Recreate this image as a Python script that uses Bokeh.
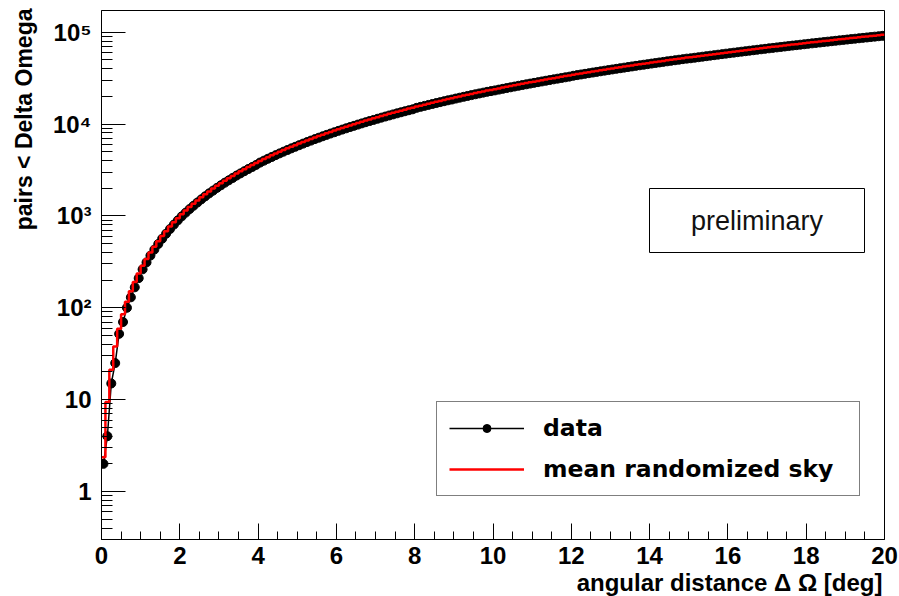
import numpy as np
from bokeh.plotting import figure
from bokeh.models import (Range1d, FixedTicker, Label, Legend, LegendItem,
                          ColumnDataSource, BoxAnnotation, Title)
from bokeh.embed import file_html
from bokeh.resources import INLINE

# ---------------- data ----------------
bin_width = 0.1
n_bins = 200
bin_edges = np.round(np.arange(n_bins + 1) * bin_width, 3)
bin_centers = bin_edges[:-1] + bin_width / 2

data_pairs = [
    2, 4, 15, 25, 52, 70, 100, 130, 167, 210, 262, 312, 370, 430, 495, 565, 640, 720, 805, 895,
    990, 1085, 1186, 1290, 1400, 1515, 1635, 1760, 1885, 2020,
    2155, 2300, 2440, 2590, 2750, 2905, 3070, 3240, 3410, 3590,
    3810, 3995, 4190, 4385, 4590, 4795, 5005, 5220, 5440, 5660,
    5890, 6125, 6365, 6605, 6855, 7105, 7360, 7620, 7885, 8150,
    8430, 8710, 8990, 9280, 9570, 9870, 10170, 10480, 10790, 11090,
    11420, 11745, 12075, 12405, 12745, 13085, 13430, 13785, 14140, 14475,
    15020, 15395, 15770, 16150, 16540, 16930, 17325, 17730, 18135, 18505,
    18955, 19375, 19800, 20225, 20660, 21100, 21540, 21985, 22435, 22835,
    23250, 23715, 24185, 24655, 25130, 25615, 26100, 26590, 27080, 27580,
    28085, 28595, 29105, 29625, 30145, 30675, 31205, 31740, 32280, 32825,
    33545, 34105, 34665, 35230, 35800, 36375, 36955, 37540, 38130, 38720,
    39320, 39920, 40530, 41140, 41760, 42380, 43005, 43635, 44270, 44910,
    45550, 46200, 46855, 47510, 48175, 48840, 49510, 50190, 50870, 51555,
    52020, 52710, 53410, 54110, 54815, 55520, 56240, 56955, 57680, 58405,
    59140, 59875, 60615, 61365, 62115, 62870, 63630, 64395, 65160, 65935,
    66715, 67495, 68285, 69075, 69870, 70670, 71480, 72290, 73100, 73920,
    74745, 75575, 76405, 77240, 78085, 78930, 79780, 80640, 81500, 82360,
    83230, 84105, 84985, 85865, 86755, 87645, 88545, 89445, 90350, 91260,
]

random_sky_pairs = [
    2.36, 9.44, 21.2, 37.8, 59.0, 85.0, 116, 151, 191, 236, 286, 340, 399, 463, 531, 604, 682, 765, 852, 944,
    1041, 1142, 1248, 1359, 1475, 1595, 1720, 1850, 1985, 2124,
    2268, 2417, 2570, 2728, 2891, 3059, 3231, 3408, 3590, 3774,
    3967, 4163, 4364, 4569, 4779, 4994, 5213, 5437, 5666, 5896,
    6138, 6381, 6629, 6882, 7139, 7401, 7668, 7939, 8215, 8488,
    8782, 9072, 9367, 9667, 9971, 10280, 10594, 10913, 11236, 11550,
    11897, 12234, 12576, 12923, 13275, 13631, 13992, 14358, 14729, 15080,
    15484, 15869, 16258, 16652, 17051, 17455, 17863, 18276, 18694, 19078,
    19543, 19975, 20412, 20853, 21299, 21750, 22205, 22665, 23130, 23541,
    23972, 24449, 24931, 25418, 25909, 26405, 26905, 27410, 27920, 28435,
    28954, 29478, 30007, 30541, 31079, 31622, 32169, 32721, 33278, 33840,
    34406, 34977, 35553, 36134, 36719, 37309, 37903, 38502, 39106, 39715,
    40328, 40946, 41569, 42197, 42829, 43466, 44107, 44753, 45404, 46060,
    46720, 47385, 48055, 48730, 49409, 50093, 50781, 51474, 52172, 52875,
    53354, 54063, 54777, 55495, 56219, 56946, 57679, 58416, 59158, 59904,
    60655, 61411, 62171, 62937, 63707, 64481, 65260, 66044, 66833, 67626,
    68424, 69227, 70034, 70846, 71663, 72484, 73310, 74141, 74976, 75816,
    76661, 77510, 78364, 79223, 80087, 80955, 81827, 82705, 83587, 84474,
    85366, 86262, 87163, 88068, 88979, 89893, 90813, 91737, 92666, 93600,
]

x_ticks = [0, 2, 4, 6, 8, 10, 12, 14, 16, 18, 20]
x_minor_ticks = [0.5 * i for i in range(41) if i % 4]
y_tick_values = [1, 10, 100, 1000, 10000, 100000]
y_tick_labels = ["1", "10", "10\u00b2", "10\u00b3", "10\u2074", "10\u2075"]

series_labels = ["data", "mean randomized sky"]
x_title = "angular distance \u0394 \u03a9 [deg]"
y_title = "pairs < Delta Omega"
note_text = "preliminary"

# ---------------- layout ----------------
W, H = 899, 596
FL, FR, FT, FB = 101, 884, 10, 539
PX_ONE, PX_DECADE = 491.0, 91.86            # pixel row of y=1, pixels per decade
Y_LO = 10 ** (-(FB - PX_ONE) / PX_DECADE)
Y_HI = 10 ** ((PX_ONE - FT) / PX_DECADE)
X_LO, X_HI = 0, 20
PX_PER_X = (FR - FL) / (X_HI - X_LO)

def xdat(px):
    return X_LO + (px - FL) / PX_PER_X

def ydat(py):
    return 10 ** ((PX_ONE - py) / PX_DECADE)

p = figure(width=W, height=H, x_range=Range1d(X_LO, X_HI), y_range=Range1d(Y_LO, Y_HI),
           y_axis_type="log", output_backend="svg", toolbar_location=None,
           min_border_left=FL, min_border_right=W - FR, min_border_top=FT,
           min_border_bottom=H - FB)
p.title = None
p.background_fill_color = "white"
p.border_fill_color = "white"
p.outline_line_color = "black"
p.outline_line_width = 1
p.xgrid.visible = False
p.ygrid.visible = False

for ax in (p.xaxis[0], p.yaxis[0]):
    ax.axis_line_color = "black"
    ax.axis_line_width = 1
    ax.major_tick_line_color = "black"
    ax.minor_tick_line_color = "black"
    ax.major_tick_out = 0
    ax.minor_tick_out = 0
    ax.major_label_text_font = "Liberation Sans"
    ax.major_label_text_font_style = "bold"
    ax.major_label_text_font_size = "24px"
    ax.major_label_text_color = "black"

p.xaxis.major_tick_in = 16
p.xaxis.minor_tick_in = 8
p.xaxis.ticker = FixedTicker(ticks=x_ticks, minor_ticks=x_minor_ticks)
p.xaxis.major_label_standoff = 7

y_minor = [m / 10 for m in range(3, 10)]
for d in range(0, 5):
    y_minor += [m * 10 ** d for m in range(2, 10)]
p.yaxis.major_tick_in = 24
p.yaxis.minor_tick_in = 11
p.yaxis.ticker = FixedTicker(ticks=y_tick_values, minor_ticks=y_minor)
p.yaxis.major_label_overrides = dict(zip(y_tick_values, y_tick_labels))
p.yaxis.major_label_standoff = 10

# axis titles (ROOT style: right / top aligned)
p.add_layout(Title(text=x_title, align="right", vertical_align="bottom", offset=2,
                   standoff=0, text_font="Liberation Sans", text_font_style="bold",
                   text_font_size="24px", text_color="black"), "below")
p.add_layout(Title(text=y_title, align="right", vertical_align="top", offset=-2,
                   standoff=21, text_font="Liberation Sans", text_font_style="bold",
                   text_font_size="23px", text_color="black"), "left")

# ---------------- glyphs ----------------
src_data = ColumnDataSource(dict(x=bin_centers, y=data_pairs))
src_rand = ColumnDataSource(dict(x=bin_edges, y=list(random_sky_pairs) + [random_sky_pairs[-1]]))

r_line = p.line("x", "y", source=src_data, line_color="black", line_width=1.5)
r_pts = p.scatter("x", "y", source=src_data, marker="circle", size=9,
                  fill_color="black", line_color="black")
r_rand = p.step("x", "y", source=src_rand, mode="after", line_color="#ff0000", line_width=2.5)

# ---------------- legend ----------------
legend = Legend(items=[LegendItem(label=series_labels[0], renderers=[r_line, r_pts]),
                       LegendItem(label=series_labels[1], renderers=[r_rand])],
                location=(436 - FL, FB - 496))
legend.label_text_font = "DejaVu Sans"
legend.label_text_font_style = "bold"
legend.label_text_font_size = "23.5px"
legend.label_text_color = "black"
legend.padding = 12
legend.spacing = 13
legend.margin = 0
legend.glyph_width = 75
legend.glyph_height = 20
legend.label_standoff = 19
legend.label_width = 304
legend.border_line_color = "black"
legend.border_line_width = 1
legend.background_fill_color = "white"
legend.background_fill_alpha = 1
p.add_layout(legend, "center")

# ---------------- "preliminary" box ----------------
p.add_layout(BoxAnnotation(left=xdat(649), right=xdat(864), top=ydat(188), bottom=ydat(252),
                           fill_color="white", fill_alpha=1, line_color="black",
                           line_alpha=1, line_width=1, level="overlay"))
p.add_layout(Label(x=xdat(756.5), y=ydat(220), text=note_text, text_align="center",
                   text_baseline="middle", text_font="Liberation Sans",
                   text_font_size="27px", text_color="#111111", level="overlay"))

open("out.html", "w").write(file_html(p, INLINE))
